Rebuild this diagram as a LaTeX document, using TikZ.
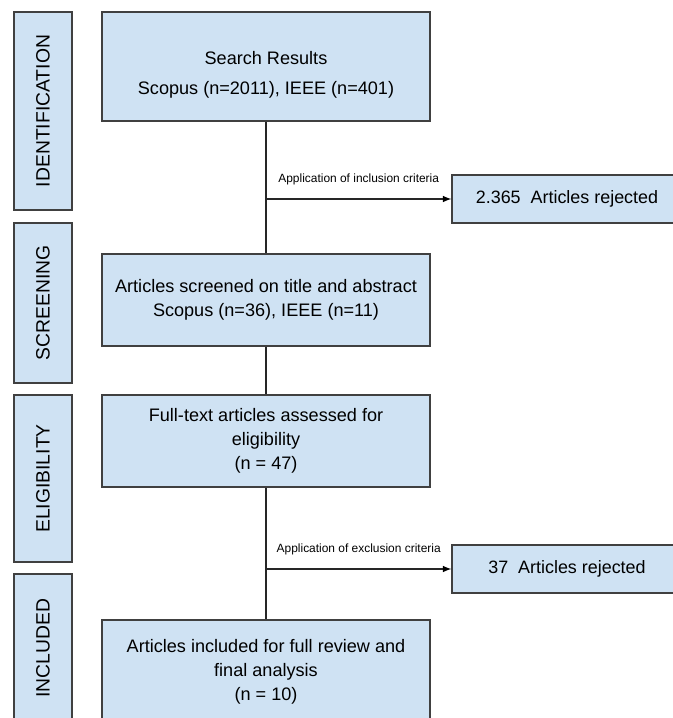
\documentclass[tikz,border=0pt]{standalone}
\usepackage{fontspec}
\setmainfont{Liberation Sans}
\usepackage{tikz}
\usetikzlibrary{arrows}

\definecolor{boxblue}{HTML}{CFE2F3}
\tikzset{
    stage/.style={draw=black!75, fill=boxblue, rotate=90, minimum height=1.16cm, inner sep=0pt, font=\fontsize{11}{13}\selectfont},
    box/.style={draw=black!75, fill=boxblue, minimum width=6.56cm, align=center, inner sep=0pt, font=\fontsize{10.3}{13.6}\selectfont},
    reject/.style={draw=black!75, fill=boxblue, minimum width=4.6cm, minimum height=0.96cm, inner sep=0pt, font=\fontsize{10.2}{13.2}\selectfont},
    crit/.style={above=0.15cm, font=\fontsize{6.8}{8}\selectfont}
}

\begin{document}
\begin{tikzpicture}[x=0.02cm, y=-0.02cm, line width=0.7pt, >=latex]
    \clip (0,0) rectangle (673,718);
    \node[stage, minimum width=3.96cm](id)   at (43,111)   {IDENTIFICATION};
    \node[stage, minimum width=3.2cm](scr)   at (43,303)   {SCREENING};
    \node[stage, minimum width=3.34cm](elig) at (43,478.5) {ELIGIBILITY};
    \node[stage, minimum width=2.96cm](incl) at (43,648)   {INCLUDED};
    \node[box, minimum height=2.18cm](search)   at (266,66.5) {\rule{0pt}{0.58cm}Search Results\\[0.12cm]Scopus (n=2011), IEEE (n=401)};
    \node[box, minimum height=1.84cm](screened) at (266,300)  {Articles screened on title and abstract\\Scopus (n=36), IEEE (n=11)};
    \node[box, minimum height=1.84cm](full)     at (266,441)  {Full-text articles assessed for\\eligibility\\(n = 47)};
    \node[box, minimum height=2.08cm](final)    at (266,672)  {Articles included for full review and\\final analysis\\(n = 10)};
    \node[reject](rej1) at (567,199) {2.365~ Articles rejected};
    \node[reject](rej2) at (567,569) {37~ Articles rejected};
    \coordinate (c1) at (266,199);
    \coordinate (c2) at (266,569);
    \path[draw=black!85]
        (search)
            edge (screened)
        (screened)
            edge (full)
        (full)
            edge (final)
        (c1)
            edge [->] node[crit] {Application of inclusion criteria} (rej1)
        (c2)
            edge [->] node[crit] {Application of exclusion criteria} (rej2)
        ;
\end{tikzpicture}
\end{document}
